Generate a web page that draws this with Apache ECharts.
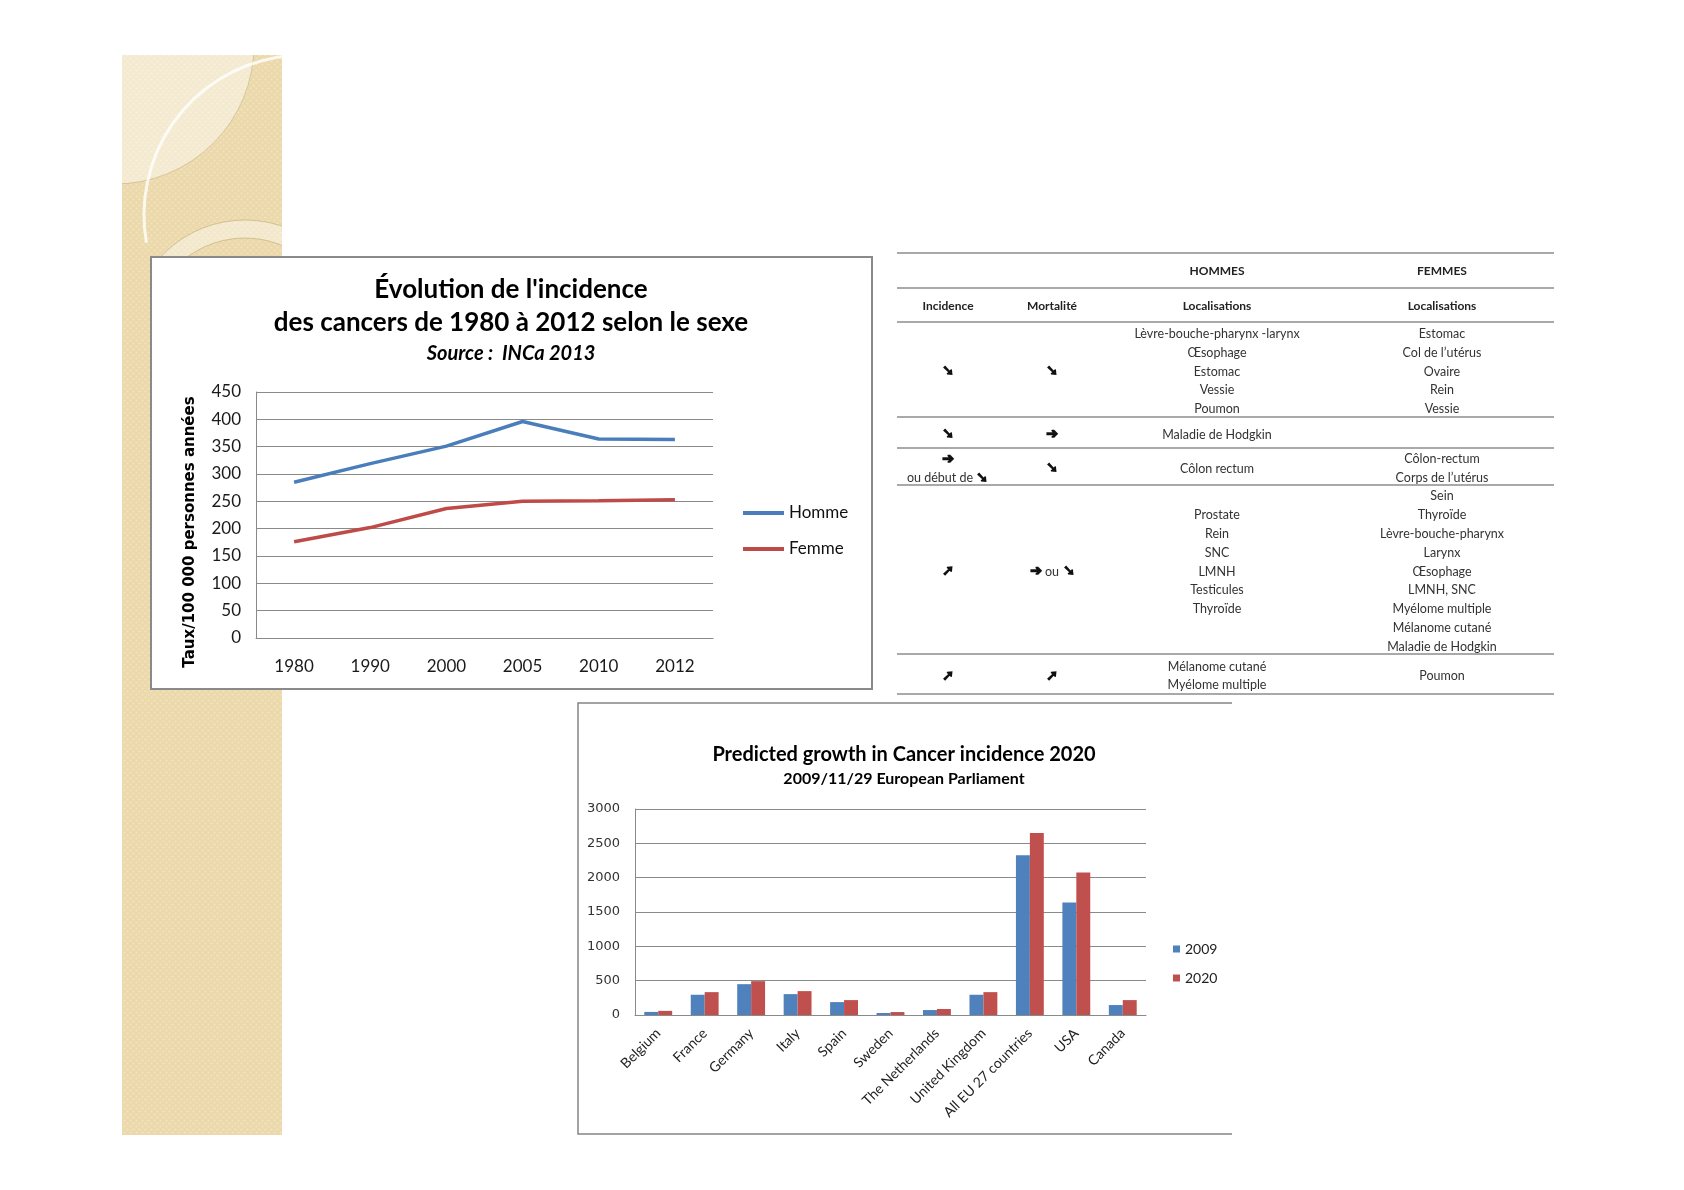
<!DOCTYPE html>
<html><head><meta charset="utf-8">
<script src="https://cdn.jsdelivr.net/npm/echarts@6/dist/echarts.min.js"></script>
<style>html,body{margin:0;padding:0;background:#fff}#c{width:1684px;height:1190px}</style>
</head><body><div id="c"></div>
<script>
// ---- Line chart data ----
const years = ['1980', '1990', '2000', '2005', '2010', '2012'];
const homme = [285, 319, 351, 396, 364, 363];
const femme = [176, 202, 237, 250, 251, 253];

// ---- Bar chart data ----
const countries = ['Belgium', 'France', 'Germany', 'Italy', 'Spain', 'Sweden', 'The Netherlands', 'United Kingdom', 'All EU 27 countries', 'USA', 'Canada'];
const inc2009 = [45, 295, 449, 304, 188, 29, 72, 295, 2325, 1640, 145];
const inc2020 = [60, 333, 493, 348, 217, 43, 87, 333, 2650, 2075, 217];

// ---- Table content ----
const tableHeader1 = ['', '', 'HOMMES', 'FEMMES'];
const tableHeader2 = ['Incidence', 'Mortalité', 'Localisations', 'Localisations'];
const colIncidence = [['➘'], ['➘'], ['➔', 'ou début de ➘'], ['➚'], ['➚']];
const colMortalite = [['➘'], ['➔'], ['➘'], ['➔ ou ➘'], ['➚']];
const colHommes = [
  ['Lèvre-bouche-pharynx -larynx', 'Œsophage', 'Estomac', 'Vessie', 'Poumon'],
  ['Maladie de Hodgkin'],
  ['Côlon rectum'],
  ['', 'Prostate', 'Rein', 'SNC', 'LMNH', 'Testicules', 'Thyroïde', '', ''],
  ['Mélanome cutané', 'Myélome multiple']
];
const colFemmes = [
  ['Estomac', 'Col de l’utérus', 'Ovaire', 'Rein', 'Vessie'],
  [],
  ['Côlon-rectum', 'Corps de l’utérus'],
  ['Sein', 'Thyroïde', 'Lèvre-bouche-pharynx', 'Larynx', 'Œsophage', 'LMNH, SNC', 'Myélome multiple', 'Mélanome cutané', 'Maladie de Hodgkin'],
  ['Poumon']
];

// ---- layout (positions only) ----
const colX = [948, 1052, 1217, 1442];
const ruleY = [253, 288, 322, 417, 448, 485, 654, 694];
const rowH = 18.8;

function makePattern() {
  const c = document.createElement('canvas');
  c.width = 6; c.height = 6;
  const g = c.getContext('2d');
  g.fillStyle = '#ebd9ab'; g.fillRect(0, 0, 6, 6);
  g.fillStyle = '#f1e4c1';
  g.beginPath(); g.arc(1.5, 1.5, 1.1, 0, Math.PI * 2); g.fill();
  g.beginPath(); g.arc(4.5, 4.5, 1.1, 0, Math.PI * 2); g.fill();
  return c;
}

const FONT = 'Lato, "DejaVu Sans", sans-serif';
const C = {align: 'center', verticalAlign: 'middle', textAlign: 'center', textVerticalAlign: 'middle'};
const graphics = [];
// decorative strip
graphics.push({type: 'rect', z: -20, shape: {x: 122, y: 55, width: 160, height: 1080}, style: {fill: {image: makePattern(), repeat: 'repeat'}}});
graphics.push({type: 'circle', z: -19, shape: {cx: 115, cy: 45, r: 139}, style: {fill: 'rgba(255,255,255,0.45)', stroke: 'rgba(190,170,120,0.5)', lineWidth: 1}});
graphics.push({type: 'arc', z: -18, shape: {cx: 304, cy: 215, r: 160, startAngle: 170 * Math.PI / 180, endAngle: 268 * Math.PI / 180, clockwise: true}, style: {stroke: 'rgba(255,255,255,0.8)', lineWidth: 3, fill: null}});
graphics.push({type: 'sector', z: -18, shape: {cx: 245, cy: 335, r0: 97, r: 115, startAngle: -140 * Math.PI / 180, endAngle: -30 * Math.PI / 180, clockwise: true}, style: {fill: 'rgba(255,255,255,0.4)', stroke: 'rgba(190,170,120,0.6)', lineWidth: 1}});
// white covers to clip decorations to the strip
graphics.push({type: 'rect', z: -17, shape: {x: 0, y: 0, width: 1684, height: 55}, style: {fill: '#fff'}});
graphics.push({type: 'rect', z: -17, shape: {x: 0, y: 0, width: 122, height: 1190}, style: {fill: '#fff'}});
graphics.push({type: 'rect', z: -17, shape: {x: 282, y: 0, width: 600, height: 256}, style: {fill: '#fff'}});

// line chart box
graphics.push({type: 'rect', z: -10, shape: {x: 151, y: 257, width: 721, height: 432}, style: {fill: '#fff', stroke: '#8a8a8a', lineWidth: 2}});
// bar chart box (left, top, bottom)
graphics.push({type: 'rect', z: -11, shape: {x: 578, y: 703, width: 654, height: 431}, style: {fill: '#fff'}});
graphics.push({type: 'polyline', z: -10, shape: {points: [[1232, 703], [578, 703], [578, 1134], [1232, 1134]]}, style: {stroke: '#858585', lineWidth: 1.5, fill: null}});

// titles
graphics.push({type: 'text', z: 10, style: Object.assign({x: 511, y: 290, text: "Évolution de l'incidence", font: 'bold 26px ' + FONT, fill: '#000'}, C)});
graphics.push({type: 'text', z: 10, style: Object.assign({x: 511, y: 323, text: 'des cancers de 1980 à 2012 selon le sexe', font: 'bold 26px ' + FONT, fill: '#000'}, C)});
graphics.push({type: 'text', z: 10, style: Object.assign({x: 511, y: 354, text: 'Source :  INCa 2013', font: 'italic bold 20px ' + FONT, fill: '#000'}, C)});
graphics.push({type: 'text', z: 10, rotation: Math.PI / 2, x: 190, y: 532, style: Object.assign({x: 0, y: 0, text: 'Taux/100 000 personnes années', font: 'bold 15px "DejaVu Sans", sans-serif', fill: '#000'}, C)});
graphics.push({type: 'text', z: 10, style: Object.assign({x: 904, y: 755, text: 'Predicted growth in Cancer incidence 2020', font: 'bold 20px ' + FONT, fill: '#000'}, C)});
graphics.push({type: 'text', z: 10, style: Object.assign({x: 904, y: 779, text: '2009/11/29 European Parliament', font: 'bold 16px ' + FONT, fill: '#000'}, C)});

// table rules
ruleY.forEach(y => graphics.push({type: 'line', z: 5, shape: {x1: 897, y1: y, x2: 1554, y2: y}, style: {stroke: '#a9a9a9', lineWidth: 2}}));
function addText(x, y, t, font, color, heavy) {
  if (!t) return;
  const st = Object.assign({x: x, y: y, text: t, font: font, fill: color}, C);
  if (heavy) { st.stroke = color; st.lineWidth = 1.3; }
  graphics.push({type: 'text', z: 6, style: st});
}
const headFont = 'bold 12px ' + FONT;
const bodyFont = '12.5px ' + FONT;
const arrowFont = 'bold 14px "DejaVu Sans", sans-serif';
tableHeader1.forEach((t, i) => addText(colX[i], (ruleY[0] + ruleY[1]) / 2 + 1, t, headFont, '#222'));
tableHeader2.forEach((t, i) => addText(colX[i], (ruleY[1] + ruleY[2]) / 2 + 1, t, headFont, '#222'));
const cols = [colIncidence, colMortalite, colHommes, colFemmes];
cols.forEach((col, ci) => {
  col.forEach((lines, bi) => {
    const top = ruleY[bi + 2], bot = ruleY[bi + 3];
    const center = (top + bot) / 2 + 2;
    lines.forEach((t, li) => {
      const y = center + (li - (lines.length - 1) / 2) * rowH;
      if (ci < 2 && /[➘➔➚]/.test(t)) {
        if (t.length === 1) { addText(colX[ci], y, t, arrowFont, '#111', true); return; }
        if (t === 'ou début de ➘') {
          addText(colX[ci] - 8, y, 'ou début de', bodyFont, '#333');
          addText(colX[ci] + 34, y, '➘', arrowFont, '#111', true);
          return;
        }
        addText(colX[ci] - 16, y, '➔', arrowFont, '#111', true);
        addText(colX[ci], y, 'ou', bodyFont, '#333');
        addText(colX[ci] + 17, y, '➘', arrowFont, '#111', true);
        return;
      }
      addText(colX[ci], y, t, bodyFont, '#333');
    });
  });
});

const chart = echarts.init(document.getElementById('c'), null, {renderer: 'canvas'});
const gridColor = '#8a8a8a';
chart.setOption({
  animation: false,
  backgroundColor: '#fff',
  graphic: graphics,
  grid: [
    {left: 256, top: 392, width: 457, height: 246},
    {left: 635, top: 809, width: 511, height: 206}
  ],
  legend: [
    {data: ['Homme', 'Femme'], orient: 'vertical', left: 743, top: 503, padding: 0, icon: 'rect', itemWidth: 41, itemHeight: 4, itemGap: 16,
      textStyle: {fontSize: 17, lineHeight: 20, color: '#111', fontFamily: FONT}},
    {data: ['2009', '2020'], orient: 'vertical', left: 1173, top: 940, padding: 0, icon: 'rect', itemWidth: 7, itemHeight: 7, itemGap: 11,
      textStyle: {fontSize: 14, lineHeight: 18, color: '#222', fontFamily: FONT}}
  ],
  xAxis: [
    {type: 'category', gridIndex: 0, data: years, boundaryGap: true,
      axisLine: {lineStyle: {color: gridColor, width: 1}}, axisTick: {show: false},
      axisLabel: {fontSize: 17, color: '#1a1a1a', margin: 20, fontFamily: FONT}},
    {type: 'category', gridIndex: 1, data: countries, boundaryGap: true,
      axisLine: {lineStyle: {color: gridColor, width: 1}}, axisTick: {show: false},
      axisLabel: {fontSize: 14, color: '#222', margin: 16, rotate: 45, interval: 0, fontFamily: FONT}}
  ],
  yAxis: [
    {type: 'value', gridIndex: 0, min: 0, max: 450, interval: 50,
      axisLine: {show: true, lineStyle: {color: gridColor, width: 1}}, axisTick: {show: false},
      splitLine: {lineStyle: {color: gridColor, width: 1}},
      axisLabel: {fontSize: 17, color: '#1a1a1a', margin: 15, fontFamily: FONT}},
    {type: 'value', gridIndex: 1, min: 0, max: 3000, interval: 500,
      axisLine: {show: true, lineStyle: {color: gridColor, width: 1}}, axisTick: {show: false},
      splitLine: {lineStyle: {color: gridColor, width: 1}},
      axisLabel: {fontSize: 13, color: '#333', margin: 15, fontFamily: '"DejaVu Sans", sans-serif', formatter: v => String(v)}}
  ],
  series: [
    {name: 'Homme', type: 'line', xAxisIndex: 0, yAxisIndex: 0, data: homme, symbol: 'none',
      lineStyle: {color: '#4a7ebb', width: 3.5}, itemStyle: {color: '#4a7ebb'}},
    {name: 'Femme', type: 'line', xAxisIndex: 0, yAxisIndex: 0, data: femme, symbol: 'none',
      lineStyle: {color: '#be4b48', width: 3.5}, itemStyle: {color: '#be4b48'}},
    {name: '2009', type: 'bar', xAxisIndex: 1, yAxisIndex: 1, data: inc2009, barGap: '0%', barCategoryGap: '40%',
      itemStyle: {color: '#4f81bd'}},
    {name: '2020', type: 'bar', xAxisIndex: 1, yAxisIndex: 1, data: inc2020, barGap: '0%', barCategoryGap: '40%',
      itemStyle: {color: '#c0504d'}}
  ]
});
</script>
</body></html>
